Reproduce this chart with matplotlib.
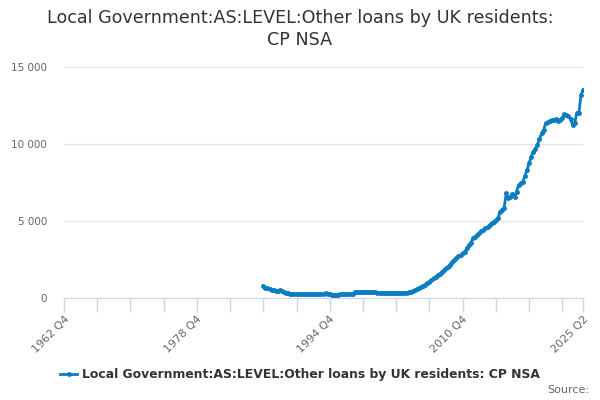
import matplotlib.pyplot as plt
from matplotlib.lines import Line2D
import numpy as np

# quarterly categories 1962 Q4 .. 2025 Q2
quarters = ["1962 Q4"] + [f"{y} Q{q}" for y in range(1963, 2026) for q in range(1, 5)]
quarters = quarters[:quarters.index("2025 Q2") + 1]

first_quarter = "1986 Q4"
values = [
    770,
    650, 600, 560, 520,          # 1987
    480, 450, 460, 490,          # 1988
    420, 380, 330, 290,          # 1989
    260, 240, 230, 230,          # 1990
    220, 230, 220, 215,          # 1991
    220, 210, 220, 215,          # 1992
    215, 220, 225, 230,          # 1993
    240, 270, 230, 210,          # 1994
    200, 195, 190, 200,          # 1995
    205, 210, 220, 230,          # 1996
    225, 230, 240, 360,          # 1997
    370, 375, 380, 380,          # 1998
    385, 380, 375, 380,          # 1999
    370, 350, 330, 320,          # 2000
    315, 310, 310, 305,          # 2001
    310, 320, 310, 315,          # 2002
    310, 305, 310, 315,          # 2003
    320, 340, 370, 420,          # 2004
    490, 560, 640, 710,          # 2005
    770, 850, 940, 1030,         # 2006
    1130, 1250, 1360, 1460,      # 2007
    1550, 1660, 1780, 1900,      # 2008
    2020, 2150, 2300, 2440,      # 2009
    2580, 2680, 2750, 2880,      # 2010
    2980, 3200, 3400, 3580,      # 2011
    3850, 3960, 4070, 4200,      # 2012
    4300, 4400, 4500, 4600,      # 2013
    4720, 4830, 4930, 5040,      # 2014
    5150, 5580, 5700, 5850,      # 2015
    6780, 6450, 6560, 6730,      # 2016
    6560, 6900, 7320, 7450,      # 2017
    7530, 7900, 8300, 8730,      # 2018
    9160, 9490, 9650, 9920,      # 2019
    10300, 10680, 10900, 11330,  # 2020
    11400, 11500, 11520, 11560,  # 2021
    11600, 11500, 11550, 11700,  # 2022
    11940, 11900, 11800, 11600,  # 2023
    11220, 11330, 12020, 11980,  # 2024
    13170, 13500,                # 2025
]

label_quarters = ["1962 Q4", "1978 Q4", "1994 Q4", "2010 Q4", "2025 Q2"]
y_ticks = [0, 5000, 10000, 15000]
y_labels = ["0", "5 000", "10 000", "15 000"]
series_name = "Local Government:AS:LEVEL:Other loans by UK residents: CP NSA"
line_color = '#0b7dc1'

fig = plt.figure(figsize=(6, 4), dpi=100)
ax = fig.add_axes([0.1067, 0.256, 0.865, 0.5765])

start = quarters.index(first_quarter)
xs = np.arange(start, start + len(values))
ax.plot(xs, values, color=line_color, lw=2, marker='o', ms=2.5, zorder=3)

ax.set_xlim(0, len(quarters) - 1)
ax.set_ylim(0, 15000)

ax.set_yticks(y_ticks)
ax.set_yticklabels(y_labels, color='#666666', fontsize=7.5)
ax.tick_params(axis='y', length=0, pad=12)
ax.grid(axis='y', color='#e6e6e6', lw=1)
ax.set_axisbelow(True)

minor_pos = list(range(0, len(quarters), 16)) + [len(quarters) - 1]
ax.set_xticks(minor_pos, minor=True)
ax.set_xticks([quarters.index(q) for q in label_quarters])
ax.set_xticklabels(label_quarters, rotation=45, ha='right', rotation_mode='anchor',
                   color='#666666', fontsize=8)
ax.tick_params(axis='x', which='both', length=10, color='#ccd6eb', width=1)
ax.tick_params(axis='x', which='major', pad=2)

for side in ['top', 'right', 'left']:
    ax.spines[side].set_visible(False)
ax.spines['bottom'].set_color('#ccd6eb')

fig.text(0.5, 0.927, "Local Government:AS:LEVEL:Other loans by UK residents:\nCP NSA",
         ha='center', va='center', fontsize=12.6, color='#333333', linespacing=1.25)

handle = Line2D([], [], color=line_color, lw=2, marker='o', ms=2.5)
fig.legend([handle], [series_name], loc='center', bbox_to_anchor=(0.5, 0.063),
           frameon=False, prop={'weight': 'bold', 'size': 8.9}, handlelength=1.4,
           handletextpad=0.4, labelcolor='#333333')
fig.text(0.982, 0.025, "Source:", ha='right', va='center', fontsize=8, color='#666666')

fig.savefig('out.png', dpi=100)
